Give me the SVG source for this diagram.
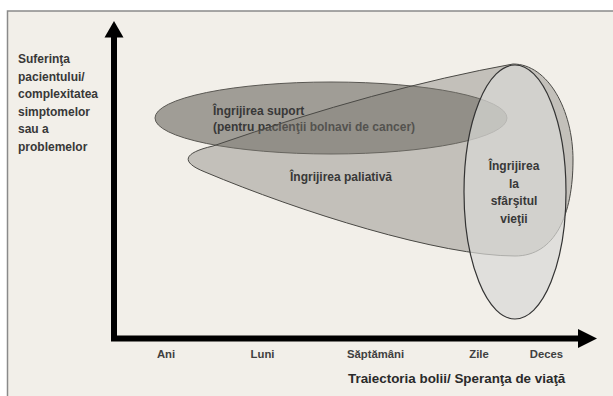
<svg xmlns="http://www.w3.org/2000/svg" width="613" height="396" viewBox="0 0 613 396">
  <style>
    .lbl { font-family: "Liberation Sans", Arial, sans-serif; font-weight: bold; font-size: 12px; fill: #383838; }
    .tick { font-family: "Liberation Sans", Arial, sans-serif; font-weight: bold; font-size: 11.3px; fill: #404040; text-anchor: middle; }
    .axis { fill: none; stroke: #000; stroke-width: 6; stroke-linejoin: miter; }
    .head { fill: #000; }
  </style>
  <rect x="0" y="0" width="613" height="396" fill="#ffffff"/>
  <rect x="7.5" y="11" width="700" height="500" fill="#f2efe9" stroke="#8a8a8a" stroke-width="1.5"/>

  <g id="axes">
    <path class="axis" d="M114,36 L114,338.5 L580,338.5"/>
    <polygon class="head" points="104.5,37.5 114,21 123.5,37.5"/>
    <polygon class="head" points="578,329 597,338.5 578,348"/>
  </g>

  <g id="y-label">
    <text class="lbl" x="18" y="63">Suferinţa</text>
    <text class="lbl" x="18" y="80.5">pacientului/</text>
    <text class="lbl" x="18" y="98">complexitatea</text>
    <text class="lbl" x="18" y="115.5">simptomelor</text>
    <text class="lbl" x="18" y="133">sau a</text>
    <text class="lbl" x="18" y="150.5">problemelor</text>
  </g>

  <g id="x-label">
    <text class="tick" x="166" y="358">Ani</text>
    <text class="tick" x="262.5" y="358">Luni</text>
    <text class="tick" x="375.5" y="358">Săptămâni</text>
    <text class="tick" x="479" y="358">Zile</text>
    <text class="tick" x="546.5" y="358">Deces</text>
    <text class="lbl" x="348" y="383" style="font-size:13.4px; fill:#2a2a2a">Traiectoria bolii/ Speranţa de viaţă</text>
  </g>

  <g id="support-care">
    <ellipse cx="331" cy="118" rx="176" ry="36" fill="#a09d96" stroke="#5a5853" stroke-width="1"/>
    <text class="lbl" x="213" y="115">Îngrijirea suport</text>
    <text class="lbl" x="213" y="131">(pentru pacienţii bolnavi de cancer)</text>
  </g>

  <g id="palliative-care">
    <path d="M213,146 Q380,88 513,64 C548,64 573,110 573,160 C573,215 555,256 515,256 C440,256 300,212 205,172 C180,162 183,153 213,146 Z" fill="#7c7a74" fill-opacity="0.4" stroke="#4a4945" stroke-width="1"/>
    <text class="lbl" x="290" y="181">Îngrijirea paliativă</text>
  </g>

  <g id="end-of-life-care">
    <ellipse cx="515" cy="192" rx="51" ry="127" fill="#d9d9d6" fill-opacity="0.7" stroke="#333" stroke-width="1.2"/>
    <text class="lbl" x="514" y="170" text-anchor="middle">Îngrijirea</text>
    <text class="lbl" x="514" y="187.5" text-anchor="middle">la</text>
    <text class="lbl" x="514" y="205" text-anchor="middle">sfârşitul</text>
    <text class="lbl" x="514" y="222.5" text-anchor="middle">vieţii</text>
  </g>
</svg>
